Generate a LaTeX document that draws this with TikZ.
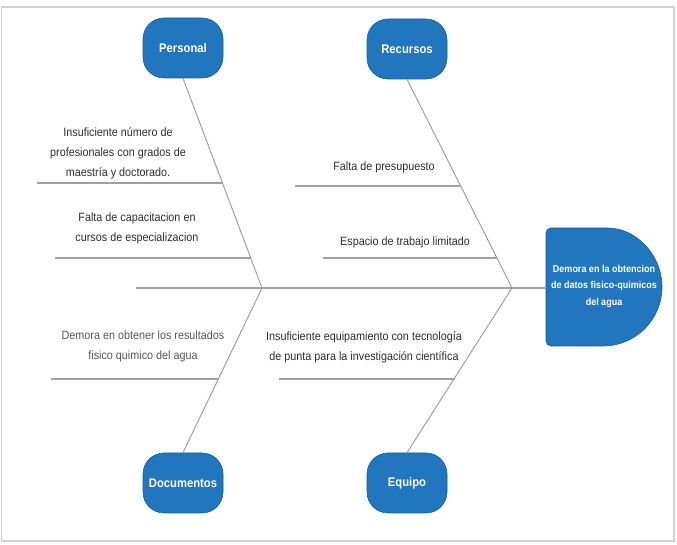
\documentclass[tikz,border=0pt]{standalone}
\usepackage{fontspec}
\setmainfont[FakeStretch=0.9]{Liberation Sans}
\usetikzlibrary{calc}
\definecolor{boxblue}{RGB}{33,118,189}
\definecolor{boxedge}{RGB}{24,92,152}
\definecolor{bone}{RGB}{160,160,160}
\definecolor{txt}{RGB}{45,45,45}
\tikzset{
  catbox/.style={draw=boxedge, line width=0.6pt, fill=boxblue, rounded corners=21pt,
    minimum width=80pt, minimum height=60pt, inner sep=0pt, text=white,
    font=\fontsize{12.5}{15}\selectfont\bfseries},
  boneline/.style={draw=bone, line width=1pt},
  subline/.style={draw=bone, line width=1.1pt},
  cause/.style={text=txt, align=center, inner sep=0pt,
    font=\fontsize{12}{20}\selectfont},
}
\begin{document}
\begin{tikzpicture}[x=1pt,y=1pt]
\useasboundingbox (0,0) rectangle (677,545);
% frame
\draw[gray!35, line width=1.6pt] (1.5,538) rectangle (674,4);
% category nodes
\node[catbox] (P) at (183,497) {Personal};
\node[catbox] (R) at (407,496) {Recursos};
\node[catbox] (D) at (183,62) {Documentos};
\node[catbox] (E) at (407,62) {Equipo};
% effect node
\fill[boxblue, draw=boxedge, line width=0.6pt, rounded corners=5pt]
  (603,199) -- (546,199) -- (546,317) -- (603,317) [sharp corners] arc[start angle=90, end angle=-90, radius=59] -- cycle;
\node[text=white, align=center, inner sep=0pt, font=\fontsize{10}{16.5}\selectfont\bfseries] (EFT) at (604,259)
  {Demora en la obtencion\\de datos fisico-quimicos\\del agua};
\coordinate (EW) at (546,257);
% junctions
\coordinate (J1) at (262,257);
\coordinate (J2) at (512,257);
\coordinate (S0) at (136,257);
% spine
\draw[boneline, line width=1.3pt] (S0) -- (EW);
% bones
\draw[boneline] (P.south) -- (J1);
\draw[boneline] (R.south) -- (J2);
\draw[boneline] (J1) -- (D.north);
\draw[boneline] (J2) -- (E.north);
% sub-bones
\coordinate (a1) at (37,362);  \coordinate (a2) at (223,362);
\coordinate (b1) at (55,287);  \coordinate (b2) at (251,287);
\coordinate (c1) at (295,359); \coordinate (c2) at (461,359);
\coordinate (d1) at (323,287); \coordinate (d2) at (497,287);
\coordinate (e1) at (51,166);  \coordinate (e2) at (218,166);
\coordinate (f1) at (279,166); \coordinate (f2) at (455,166);
\draw[subline] (a1) -- (a2);
\draw[subline] (b1) -- (b2);
\draw[subline] (c1) -- (c2);
\draw[subline] (d1) -- (d2);
\draw[subline] (e1) -- (e2);
\draw[subline] (f1) -- (f2);
% cause texts
\node[cause] (t1) at (118,392) {Insuficiente número de\\profesionales con grados de\\maestría y doctorado.};
\node[cause] (t2) at (137,317) {Falta de capacitacion en\\cursos de especializacion};
\node[cause] (t3) at (384,378) {Falta de presupuesto};
\node[cause] (t4) at (405,303) {Espacio de trabajo limitado};
\node[cause, text=txt!80] (t5) at (143,199) {Demora en obtener los resultados\\fisico quimico del agua};
\node[cause] (t6) at (364,198) {Insuficiente equipamiento con tecnología\\de punta para la investigación científica};
\end{tikzpicture}
\end{document}
